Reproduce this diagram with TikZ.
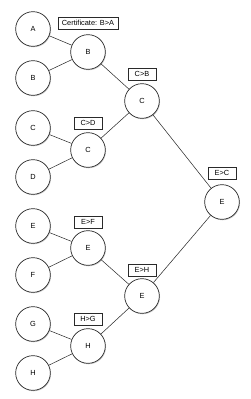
\documentclass[tikz,border=0pt]{standalone}
\usepackage{fontspec}
\setmainfont{Liberation Sans}
\usetikzlibrary{shadows}
\definecolor{trink}{HTML}{2A2A2A}
\begin{document}
\begin{tikzpicture}[
  x=0.03cm,y=-0.03cm,
  font=\fontsize{6.3}{7}\selectfont,
  player/.style={circle,draw=trink,line width=.6pt,fill=white,minimum size=1.04cm,inner sep=0pt,
    drop shadow={shadow xshift=.6pt,shadow yshift=-.8pt,fill=black!40}},
  cert/.style={rectangle,draw=trink,line width=.5pt,fill=white,minimum height=.35cm,minimum width=.84cm,
    inner xsep=3.5pt,inner ysep=1pt,
    drop shadow={shadow xshift=.6pt,shadow yshift=-.7pt,fill=black!40}},
  match/.style={draw=trink,line width=.45pt}
]
  \path[use as bounding box] (0,0) rectangle (250,399);
  % first round
  \foreach \n/\y in {A/29,B/78,C/128,D/177,E/226,F/275,G/324,H/373}{
    \node[player] (leaf\n) at (33,\y) {\n};
  }
  % winners
  \node[player] (wB) at (88,52) {B};
  \node[player] (wC) at (88,150) {C};
  \node[player] (wE) at (88,248) {E};
  \node[player] (wH) at (88,346) {H};
  \node[player] (sC) at (142,101) {C};
  \node[player] (sE) at (142,296) {E};
  \node[player] (fE) at (222,202) {E};
  % connectors
  \foreach \a/\b in {leafA/wB,leafB/wB,leafC/wC,leafD/wC,leafE/wE,leafF/wE,leafG/wH,leafH/wH,
                     wB/sC,wC/sC,wE/sE,wH/sE,sC/fE,sE/fE}{
    \draw[match] (\a) -- (\b);
  }
  % certificates
  \node[cert] (cBA) at (88,23) {Certificate: B>A};
  \node[cert] (cCB) at (142,74) {C>B};
  \node[cert] (cCD) at (88,123) {C>D};
  \node[cert] (cEC) at (222,173) {E>C};
  \node[cert] (cEF) at (88,222) {E>F};
  \node[cert] (cEH) at (142,270) {E>H};
  \node[cert] (cHG) at (88,319) {H>G};
\end{tikzpicture}
\end{document}
